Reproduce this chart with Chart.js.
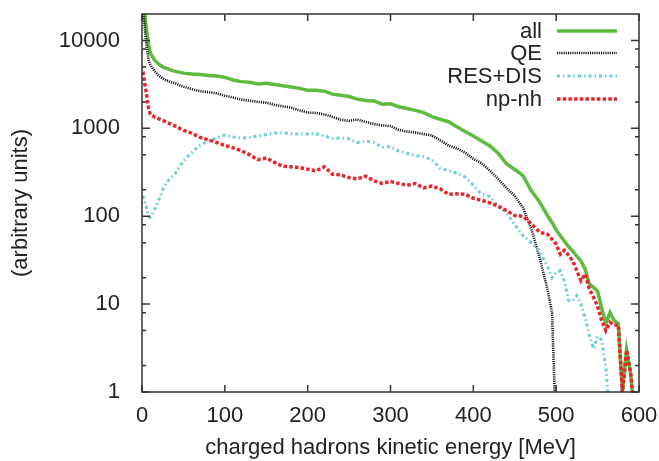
<!DOCTYPE html>
<html><head><meta charset="utf-8">
<script src="https://cdn.jsdelivr.net/npm/chart.js@4"></script>
<style>html,body{margin:0;padding:0;background:#fff}#wrap{width:659px;height:461px}</style>
</head><body><div id="wrap"><canvas id="c" width="659" height="461"></canvas></div>
<script>
const energy = [1,3,5,8,10,15,20,25,30,35,40,50,60,70,80,90,100,110,120,130,140,150,160,170,180,190,200,210,220,230,240,250,260,270,280,290,300,310,320,330,340,350,360,370,380,390,400,410,420,430,440,450,460,470,480,490,495,500,505,510,515,520,525,530,535,540,545,550,555,560,565,570,575,580,585,590,595,600];
const allVals = [40000,22000,14000,9000,7200,6000,5400,5000,4800,4600,4450,4250,4150,4100,4000,3950,3800,3550,3400,3350,3200,3250,3150,3050,2950,2850,2720,2720,2650,2450,2380,2300,2150,2080,2050,1880,1900,1760,1680,1600,1510,1360,1270,1190,1040,920,820,720,630,520,395,340,290,195,145,100,85,70,60,52,45,40,35,31,25,17,15.5,14,9,6,8,6.5,6,1,3,1.6,0.5,null];
const qeVals = [30000,15000,9500,6000,5300,4500,4000,3700,3500,3350,3250,2980,2800,2640,2580,2500,2350,2240,2130,2060,2000,1960,1850,1780,1720,1600,1510,1500,1440,1350,1250,1220,1260,1180,1120,1080,1060,960,920,895,860,830,730,640,590,530,450,400,330,265,210,170,125,72,34,14,8,0.3,null,null,null,null,null,null,null,null,null,null,null,null,null,null,null,null,null,null,null,null];
const resDisVals = [170,150,128,100,97,118,150,200,245,275,305,425,530,640,720,775,840,800,775,790,820,850,880,890,870,860,865,870,820,770,775,760,690,710,690,610,620,550,520,490,475,440,350,330,310,280,225,178,167,130,110,80,60,50,40,26,20,23,24,18,11,11,12.5,10,7,4.5,3.1,4.3,3.9,1.9,0.5,null,null,null,null,null,null,null];
const npnhVals = [4400,3400,2600,1700,1450,1350,1290,1230,1170,1120,1060,950,880,790,740,690,640,600,555,500,440,460,410,370,365,358,343,328,365,300,295,275,266,285,253,236,248,236,225,235,210,220,205,178,180,178,160,152,142,130,116,102,100,82,66,62,55,48,37,41,36,31,24,18.5,22,15,12,9.5,6.5,5,6.2,5.8,5.8,1,3,1.6,0.5,null];
const seriesLabels = ['all','QE','RES+DIS','np-nh'];
const xTicks = [0,100,200,300,400,500,600];
const yTicks = [1,10,100,1000,10000];
const yMinorTicks = [2,5,8,20,50,80,200,500,800,2000,5000,8000];

const FONT = "'Liberation Sans', Arial, Helvetica, sans-serif";
const toPts = vals => energy.map((e,i) => ({x:e, y:vals[i]}));

const frameAndLegend = {
  id:'frameAndLegend',
  afterDatasetsDraw(chart){
    const {ctx, chartArea:{left,right,top,bottom}, scales:{x,y}} = chart;
    ctx.save();
    ctx.strokeStyle = '#333';
    ctx.lineWidth = 1.5;
    ctx.setLineDash([]);
    ctx.strokeRect(left, top, right-left, bottom-top);
    ctx.beginPath();
    xTicks.forEach(v => {
      const px = x.getPixelForValue(v);
      ctx.moveTo(px, bottom); ctx.lineTo(px, bottom-7);
      ctx.moveTo(px, top); ctx.lineTo(px, top+7);
    });
    yTicks.forEach(v => {
      const py = y.getPixelForValue(v);
      ctx.moveTo(left, py); ctx.lineTo(left+8, py);
      ctx.moveTo(right, py); ctx.lineTo(right-8, py);
    });
    yMinorTicks.forEach(v => {
      const py = y.getPixelForValue(v);
      ctx.moveTo(left, py); ctx.lineTo(left+4, py);
      ctx.moveTo(right, py); ctx.lineTo(right-4, py);
    });
    ctx.stroke();
    // legend
    const rows = [31, 53, 76, 99];
    ctx.font = '22px ' + FONT;
    ctx.fillStyle = '#222';
    ctx.textAlign = 'right';
    ctx.textBaseline = 'middle';
    chart.data.datasets.forEach((ds, i) => {
      const yy = rows[i];
      ctx.fillText(ds.label, 542, yy + 1);
      ctx.beginPath();
      ctx.strokeStyle = ds.borderColor;
      ctx.lineWidth = ds.borderWidth;
      ctx.setLineDash(ds.borderDash || []);
      ctx.moveTo(557, yy); ctx.lineTo(617, yy);
      ctx.stroke();
    });
    ctx.restore();
  }
};

new Chart(document.getElementById('c'), {
  type:'line',
  data:{
    datasets:[
      {label:seriesLabels[0], data:toPts(allVals), borderColor:'#5fbb40', borderWidth:3.5, borderDash:[], order:4},
      {label:seriesLabels[1], data:toPts(qeVals), borderColor:'#111111', borderWidth:2.6, borderDash:[1.1,1.1], order:3},
      {label:seriesLabels[2], data:toPts(resDisVals), borderColor:'#6ccbdc', borderWidth:3, borderDash:[3,3,1.5,3], order:2},
      {label:seriesLabels[3], data:toPts(npnhVals), borderColor:'#e8262b', borderWidth:3.5, borderDash:[3.5,2.2], order:1}
    ]
  },
  options:{
    responsive:false,
    animation:false,
    devicePixelRatio:1,
    layout:{padding:{left:8, right:20, top:14, bottom:0}},
    elements:{point:{radius:0}, line:{tension:0, fill:false}},
    datasets:{line:{clip:0, spanGaps:false}},
    plugins:{legend:{display:false}, tooltip:{enabled:false}},
    scales:{
      x:{
        type:'linear', min:0, max:600,
        afterBuildTicks: s => { s.ticks = xTicks.map(v => ({value:v})); },
        afterFit: s => { s.height = 69; s.paddingLeft = 0; s.paddingRight = 0; },
        grid:{display:false},
        border:{display:false},
        ticks:{font:{family:FONT, size:22}, color:'#222', padding:3, maxRotation:0, callback:v => String(v)},
        title:{display:true, text:'charged hadrons kinetic energy [MeV]', font:{family:FONT, size:22}, color:'#222', padding:{top:4,bottom:0}}
      },
      y:{
        type:'logarithmic', min:1, max:20000,
        afterBuildTicks: s => { s.ticks = yTicks.map(v => ({value:v})); },
        afterFit: s => { s.width = 134; s.paddingTop = 0; s.paddingBottom = 0; },
        grid:{display:false},
        border:{display:false},
        ticks:{font:{family:FONT, size:22}, color:'#222', padding:14, callback:v => String(v)},
        title:{display:true, text:'(arbitrary units)', font:{family:FONT, size:22}, color:'#222', padding:{top:0,bottom:4}}
      }
    }
  },
  plugins:[frameAndLegend]
});
</script></body></html>
